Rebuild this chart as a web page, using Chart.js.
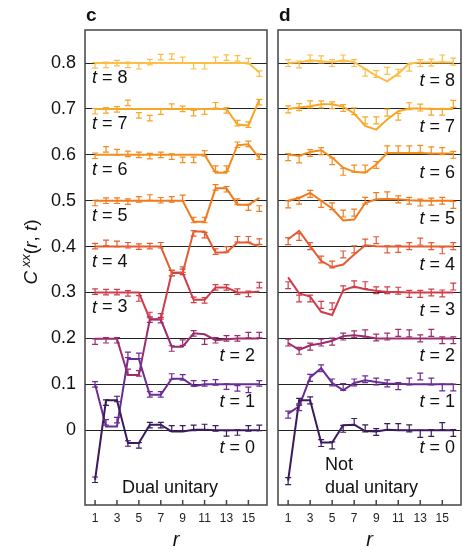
<!DOCTYPE html>
<html>
<head>
<meta charset="utf-8">
<script src="https://cdn.jsdelivr.net/npm/chart.js@4.4.0/dist/chart.umd.min.js"></script>
<style>
  body { margin: 0; background: #fff; }
  #wrap { position: relative; width: 463px; height: 553px; }
  canvas { position: absolute; top: 0; }
</style>
</head>
<body>
<div id="wrap">
  <canvas id="panelC" width="270" height="553" style="left:0"></canvas>
  <canvas id="panelD" width="193" height="553" style="left:270px"></canvas>
</div>
<script>
const FONT = '"Liberation Sans", Arial, Helvetica, sans-serif';

const rValues = [1, 2, 3, 4, 5, 6, 7, 8, 9, 10, 11, 12, 13, 14, 15, 16];
const xTicks = [1, 3, 5, 7, 9, 11, 13, 15];
const yTicks = [0, 0.1, 0.2, 0.3, 0.4, 0.5, 0.6, 0.7, 0.8];
const tSteps = [0, 1, 2, 3, 4, 5, 6, 7, 8];
const lineColors = ['#3b1b5c', '#6b2c96', '#9b2d6e', '#d03d4a', '#e45c32', '#f07a1e', '#f58d1e', '#f9a626', '#fcbe48'];

// panel c, dual unitary (values include the t*0.1 offset)
const dualTheory = [
  [-0.108, 0.065, 0.065, -0.028, -0.028, 0.012, 0.012, -0.003, -0.003, 0.001, 0.001, 0, 0, 0, 0, 0],
  [0.100, 0.008, 0.008, 0.155, 0.155, 0.077, 0.077, 0.112, 0.112, 0.096, 0.100, 0.100, 0.100, 0.100, 0.100, 0.100],
  [0.199, 0.199, 0.199, 0.120, 0.120, 0.241, 0.241, 0.182, 0.182, 0.211, 0.209, 0.196, 0.198, 0.200, 0.200, 0.200],
  [0.300, 0.300, 0.300, 0.300, 0.300, 0.242, 0.242, 0.343, 0.343, 0.284, 0.284, 0.311, 0.311, 0.300, 0.300, 0.302],
  [0.400, 0.400, 0.400, 0.400, 0.400, 0.400, 0.400, 0.343, 0.343, 0.433, 0.433, 0.387, 0.387, 0.409, 0.409, 0.400],
  [0.500, 0.500, 0.500, 0.500, 0.500, 0.500, 0.500, 0.500, 0.500, 0.454, 0.454, 0.527, 0.527, 0.491, 0.491, 0.506],
  [0.600, 0.600, 0.600, 0.600, 0.600, 0.600, 0.600, 0.600, 0.600, 0.600, 0.600, 0.561, 0.561, 0.621, 0.623, 0.593],
  [0.700, 0.700, 0.700, 0.700, 0.700, 0.700, 0.700, 0.700, 0.700, 0.700, 0.700, 0.700, 0.700, 0.666, 0.664, 0.720],
  [0.800, 0.800, 0.800, 0.800, 0.800, 0.800, 0.800, 0.800, 0.800, 0.800, 0.800, 0.800, 0.800, 0.800, 0.800, 0.780]
];
const dualData = [
  [-0.108, 0.060, 0.068, -0.029, -0.033, 0.011, 0.011, 0.004, 0.004, 0.005, 0.007, 0.004, -0.007, -0.005, 0.004, 0.005],
  [0.100, 0.017, 0.022, 0.164, 0.162, 0.078, 0.078, 0.117, 0.115, 0.102, 0.102, 0.104, 0.095, 0.091, 0.088, 0.102],
  [0.193, 0.196, 0.196, 0.127, 0.124, 0.241, 0.240, 0.178, 0.191, 0.211, 0.193, 0.196, 0.200, 0.200, 0.207, 0.207],
  [0.302, 0.301, 0.301, 0.298, 0.287, 0.251, 0.248, 0.342, 0.345, 0.284, 0.283, 0.311, 0.311, 0.302, 0.297, 0.316],
  [0.401, 0.408, 0.406, 0.403, 0.400, 0.401, 0.403, 0.343, 0.350, 0.429, 0.425, 0.389, 0.394, 0.416, 0.416, 0.411],
  [0.495, 0.500, 0.500, 0.498, 0.503, 0.507, 0.501, 0.503, 0.506, 0.458, 0.458, 0.529, 0.525, 0.498, 0.485, 0.483],
  [0.598, 0.612, 0.606, 0.602, 0.600, 0.597, 0.600, 0.596, 0.589, 0.589, 0.603, 0.570, 0.570, 0.622, 0.624, 0.596],
  [0.695, 0.697, 0.699, 0.713, 0.686, 0.680, 0.694, 0.705, 0.700, 0.691, 0.694, 0.708, 0.697, 0.669, 0.666, 0.715],
  [0.795, 0.796, 0.800, 0.796, 0.793, 0.802, 0.813, 0.814, 0.807, 0.793, 0.793, 0.807, 0.812, 0.810, 0.804, 0.777]
];
const dualErr = 0.006;

// panel d, not dual unitary
const notDualTheory = [
  [-0.110, 0.065, 0.065, -0.027, -0.027, 0.011, 0.012, -0.002, -0.003, 0.001, 0, 0, 0, 0, 0, 0],
  [0.036, 0.052, 0.115, 0.135, 0.103, 0.087, 0.103, 0.109, 0.105, 0.102, 0.101, 0.100, 0.100, 0.100, 0.100, 0.100],
  [0.190, 0.175, 0.185, 0.189, 0.195, 0.205, 0.207, 0.204, 0.200, 0.200, 0.200, 0.200, 0.200, 0.200, 0.200, 0.200],
  [0.333, 0.298, 0.291, 0.258, 0.251, 0.305, 0.313, 0.307, 0.304, 0.301, 0.301, 0.300, 0.300, 0.300, 0.300, 0.300],
  [0.416, 0.434, 0.401, 0.369, 0.355, 0.361, 0.383, 0.403, 0.401, 0.400, 0.400, 0.400, 0.400, 0.400, 0.400, 0.400],
  [0.500, 0.506, 0.517, 0.500, 0.483, 0.457, 0.459, 0.495, 0.503, 0.504, 0.503, 0.501, 0.500, 0.500, 0.500, 0.500],
  [0.600, 0.598, 0.606, 0.610, 0.594, 0.572, 0.563, 0.561, 0.579, 0.604, 0.604, 0.604, 0.604, 0.603, 0.603, 0.603],
  [0.700, 0.703, 0.706, 0.710, 0.710, 0.705, 0.690, 0.663, 0.655, 0.677, 0.695, 0.701, 0.701, 0.700, 0.700, 0.700],
  [0.800, 0.801, 0.806, 0.804, 0.802, 0.806, 0.802, 0.787, 0.772, 0.760, 0.777, 0.799, 0.801, 0.801, 0.801, 0.801]
];
const notDualData = [
  [-0.111, 0.062, 0.065, -0.028, -0.033, 0.003, 0.018, 0.004, -0.004, 0.007, 0.007, 0.004, -0.008, -0.006, 0.009, -0.006],
  [0.034, 0.050, 0.114, 0.135, 0.104, 0.094, 0.104, 0.111, 0.106, 0.102, 0.096, 0.106, 0.117, 0.106, 0.093, 0.093],
  [0.191, 0.173, 0.182, 0.191, 0.193, 0.204, 0.209, 0.211, 0.202, 0.204, 0.212, 0.211, 0.200, 0.212, 0.196, 0.196],
  [0.316, 0.287, 0.287, 0.273, 0.270, 0.307, 0.318, 0.316, 0.305, 0.305, 0.304, 0.297, 0.297, 0.300, 0.298, 0.313],
  [0.412, 0.421, 0.401, 0.372, 0.361, 0.383, 0.394, 0.409, 0.414, 0.394, 0.395, 0.401, 0.411, 0.401, 0.392, 0.401],
  [0.492, 0.500, 0.515, 0.493, 0.488, 0.472, 0.474, 0.500, 0.510, 0.512, 0.503, 0.500, 0.496, 0.498, 0.500, 0.491],
  [0.595, 0.590, 0.604, 0.608, 0.586, 0.563, 0.570, 0.570, 0.578, 0.612, 0.612, 0.612, 0.613, 0.610, 0.608, 0.600],
  [0.699, 0.704, 0.710, 0.710, 0.708, 0.702, 0.695, 0.675, 0.675, 0.692, 0.683, 0.706, 0.703, 0.694, 0.694, 0.711],
  [0.800, 0.797, 0.810, 0.808, 0.800, 0.810, 0.800, 0.779, 0.776, 0.783, 0.779, 0.790, 0.800, 0.801, 0.810, 0.803]
];
const notDualErr = 0.0075;

function drawTLabel(ctx, t, x, y, align) {
    ctx.font = 'italic 18px ' + FONT;
    const wt = ctx.measureText('t').width;
    ctx.font = '18px ' + FONT;
    const rest = ' = ' + t;
    const wr = ctx.measureText(rest).width;
    const x0 = align === 'right' ? x - wt - wr : x;
    ctx.textAlign = 'left';
    ctx.textBaseline = 'middle';
    ctx.font = 'italic 18px ' + FONT;
    ctx.fillText('t', x0, y);
    ctx.font = '18px ' + FONT;
    ctx.fillText(rest, x0 + wt, y);
}

const panelDecor = {
    id: 'panelDecor',
    afterDatasetsDraw(chart) {
        const ctx = chart.ctx;
        const xs = chart.scales.x, ys = chart.scales.y;
        chart.data.datasets.forEach(ds => {
            if (!ds.errorBar) return;
            ctx.save();
            ctx.strokeStyle = ds.borderColor;
            ctx.lineWidth = 1.2;
            ds.data.forEach(p => {
                const px = xs.getPixelForValue(p.x);
                const lo = ys.getPixelForValue(p.y - ds.errorBar);
                const hi = ys.getPixelForValue(p.y + ds.errorBar);
                ctx.beginPath();
                ctx.moveTo(px, lo); ctx.lineTo(px, hi);
                ctx.moveTo(px - 3, lo); ctx.lineTo(px + 3, lo);
                ctx.moveTo(px - 3, hi); ctx.lineTo(px + 3, hi);
                ctx.stroke();
            });
            ctx.restore();
        });
    },
    afterDraw(chart, args, opts) {
        const ctx = chart.ctx;
        const a = chart.chartArea;
        const xs = chart.scales.x, ys = chart.scales.y;
        ctx.save();
        // frame
        ctx.strokeStyle = '#444';
        ctx.lineWidth = 1.5;
        ctx.strokeRect(a.left, a.top, a.right - a.left, a.bottom - a.top);
        // inward x ticks
        ctx.beginPath();
        xTicks.forEach(v => {
            const px = xs.getPixelForValue(v);
            ctx.moveTo(px, a.bottom);
            ctx.lineTo(px, a.bottom - 5);
        });
        ctx.stroke();

        ctx.fillStyle = '#111';
        // t labels
        tSteps.forEach(t => {
            const yy = ys.getPixelForValue(t * 0.1);
            if (opts.leftLabels.includes(t)) {
                drawTLabel(ctx, t, a.left + 7, yy + 15, 'left');
            } else {
                drawTLabel(ctx, t, a.right - opts.rightInset, yy + 18, 'right');
            }
        });

        // panel letter
        ctx.font = 'bold 19px ' + FONT;
        ctx.textAlign = 'left';
        ctx.textBaseline = 'alphabetic';
        ctx.fillText(opts.letter, a.left + 1, 21);

        // note
        ctx.font = '18px ' + FONT;
        opts.note.forEach((line, i) => {
            ctx.fillText(line, opts.noteX, opts.noteY[i]);
        });

        // y title  C^xx(r, t)
        if (opts.yTitle) {
            ctx.translate(30, 252);
            ctx.rotate(-Math.PI / 2);
            const parts = [
                ['C', 'italic 19px ', 0],
                [' xx', 'italic 13px ', -7],
                ['(', '19px ', 0],
                ['r', 'italic 19px ', 0],
                [', ', '19px ', 0],
                ['t', 'italic 19px ', 0],
                [')', '19px ', 0]
            ];
            let total = 0;
            parts.forEach(p => { ctx.font = p[1] + FONT; total += ctx.measureText(p[0]).width; });
            let cx = -total / 2;
            ctx.textBaseline = 'alphabetic';
            parts.forEach(p => {
                ctx.font = p[1] + FONT;
                ctx.fillText(p[0], cx, 7 + p[2]);
                cx += ctx.measureText(p[0]).width;
            });
        }
        ctx.restore();
    }
};

function makeChart(id, theory, values, err, cfg) {
    const datasets = [];
    tSteps.forEach((t, i) => {
        datasets.push({
            data: rValues.map((r, k) => ({ x: r, y: theory[i][k] })),
            borderColor: lineColors[i],
            borderWidth: 2,
            pointRadius: 0,
            fill: false,
            tension: 0
        });
        datasets.push({
            data: rValues.map((r, k) => ({ x: r, y: values[i][k] })),
            borderColor: lineColors[i],
            showLine: false,
            pointRadius: 0,
            errorBar: err
        });
    });

    return new Chart(document.getElementById(id), {
        type: 'line',
        data: { datasets },
        options: {
            responsive: false,
            animation: false,
            layout: { padding: cfg.padding },
            plugins: {
                legend: { display: false },
                tooltip: { enabled: false },
                panelDecor: cfg.decor
            },
            scales: {
                x: {
                    type: 'linear',
                    min: 0.08,
                    max: 16.7,
                    afterBuildTicks: s => { s.ticks = xTicks.map(v => ({ value: v })); },
                    afterFit: s => { s.height = 48; },
                    grid: { display: false, drawTicks: false },
                    border: { display: false },
                    ticks: {
                        autoSkip: false,
                        maxRotation: 0,
                        padding: 6,
                        color: '#222',
                        font: { family: FONT, size: 12 }
                    },
                    title: {
                        display: true,
                        text: 'r',
                        color: '#111',
                        font: { family: FONT, size: 20, style: 'italic' },
                        padding: { top: 0, bottom: 1 }
                    }
                },
                y: {
                    type: 'linear',
                    min: -0.163,
                    max: 0.872,
                    afterBuildTicks: s => { s.ticks = yTicks.map(v => ({ value: v })); },
                    afterFit: s => { s.width = cfg.yWidth; },
                    grid: { color: '#222', lineWidth: 1, drawTicks: false },
                    border: { display: false },
                    ticks: {
                        display: cfg.showY,
                        padding: 9,
                        color: '#111',
                        font: { family: FONT, size: 18 },
                        callback: v => v === 0 ? '0' : v.toFixed(1)
                    }
                }
            }
        },
        plugins: [panelDecor]
    });
}

makeChart('panelC', dualTheory, dualData, dualErr, {
    padding: { top: 30, right: 3, left: 0, bottom: 0 },
    yWidth: 85,
    showY: true,
    decor: {
        letter: 'c',
        leftLabels: [3, 4, 5, 6, 7, 8],
        rightInset: 12,
        note: ['Dual unitary'],
        noteX: 122,
        noteY: [493],
        yTitle: true
    }
});

makeChart('panelD', notDualTheory, notDualData, notDualErr, {
    padding: { top: 30, right: 2, left: 8, bottom: 0 },
    yWidth: 0,
    showY: false,
    decor: {
        letter: 'd',
        leftLabels: [],
        rightInset: 6,
        note: ['Not', 'dual unitary'],
        noteX: 55,
        noteY: [470, 493],
        yTitle: false
    }
});
</script>
</body>
</html>
